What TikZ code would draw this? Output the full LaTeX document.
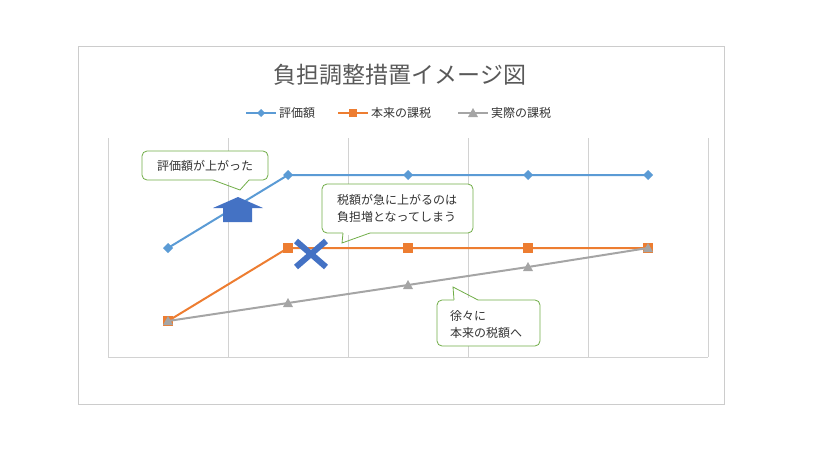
\documentclass[tikz,border=0pt]{standalone}
\usepackage{fontspec}
\setmainfont{Noto Sans CJK JP}
\usetikzlibrary{positioning}
\definecolor{hyoka}{HTML}{5B9BD5}
\definecolor{honrai}{HTML}{ED7D31}
\definecolor{jissai}{HTML}{A5A5A5}
\definecolor{callgreen}{HTML}{70AD47}
\definecolor{markblue}{HTML}{4472C4}
\tikzset{
grid line/.style={draw=gray!35, line width=0.6pt}, % the vertical grid lines
series/.style={line width=2pt}, % the three data lines
callout/.style={draw=callgreen, fill=white, line width=0.8pt, rounded corners=5pt},
note/.style={font=\fontsize{12}{17}\selectfont, align=left, text=black!80},
}

\begin{document}
\begin{tikzpicture}[x=1pt, y=-1pt]
    \useasboundingbox (0,0) rectangle (819,460);
    % chart frame and grid
    \draw[gray!40] (78,46) rectangle (724,404);
    \foreach \x in {108,228,...,708}
        \draw[grid line] (\x,138) -- (\x,357);
    \draw[grid line] (108,357) -- (708,357);
    \node[font=\fontsize{23}{27}\selectfont, text=black!65] (title) at (400,75) {負担調整措置イメージ図};
    % legend
    \draw[series, hyoka] (246,113) -- (276,113);
    \fill[hyoka] (261,109) -- (265,113) -- (261,117) -- (257,113) -- cycle;
    \node[note, anchor=west, inner sep=1pt] (lg1) at (278,113) {評価額};
    \draw[series, honrai] (338,113) -- (368,113);
    \fill[honrai] (349,109) rectangle (357,117);
    \node[note, anchor=west, inner sep=1pt] (lg2) at (370,113) {本来の課税};
    \draw[series, jissai] (458,113) -- (488,113);
    \fill[jissai] (473,108) -- (478,117) -- (468,117) -- cycle;
    \node[note, anchor=west, inner sep=1pt] (lg3) at (490,113) {実際の課税};
    % data series
    \draw[series, honrai] (168,321) -- (288,248) -- (648,248);
    \foreach \x/\y in {168/321,288/248,408/248,528/248,648/248}
        \fill[honrai] (\x-5,\y-5) rectangle (\x+5,\y+5);
    \draw[series, jissai] (168,321) -- (288,303) -- (408,285) -- (528,267) -- (648,248);
    \foreach \x/\y in {168/321,288/303,408/285,528/267,648/248}
        \fill[jissai] (\x,\y-5) -- (\x+5,\y+4) -- (\x-5,\y+4) -- cycle;
    \draw[series, hyoka] (168,248) -- (288,175) -- (648,175);
    \foreach \x/\y in {168/248,288/175,408/175,528/175,648/175}
        \fill[hyoka] (\x,\y-5) -- (\x+5,\y) -- (\x,\y+5) -- (\x-5,\y) -- cycle;
    % marks
    \fill[markblue] (213,208) -- (238,197) -- (263,208) -- (252,208) -- (252,222) -- (223,222) -- (223,208) -- cycle;
    \draw[markblue, line width=6pt] (296,241) -- (326,267) (296,267) -- (326,241);
    % callouts
    \draw[callout] (142,151) rectangle (268,180);
    \fill[white] (213,178) rectangle (249,182);
    \draw[callgreen, line width=0.8pt] (213,180) -- (240,190) -- (249,180);
    \node[note] (c1) at (205,166) {評価額が上がった};
    \draw[callout] (322,184) rectangle (473,233);
    \fill[white] (343,231) rectangle (370,235);
    \draw[callgreen, line width=0.8pt] (343,233) -- (342,243) -- (370,233);
    \node[note] (c2) at (397,208) {税額が急に上がるのは\\負担増となってしまう};
    \draw[callout] (437,300) rectangle (540,346);
    \fill[white] (454,298) rectangle (478,302);
    \draw[callgreen, line width=0.8pt] (454,300) -- (453,287) -- (478,300);
    \node[note] (c3) at (486,324) {徐々に\\本来の税額へ};
\end{tikzpicture}
\end{document}
